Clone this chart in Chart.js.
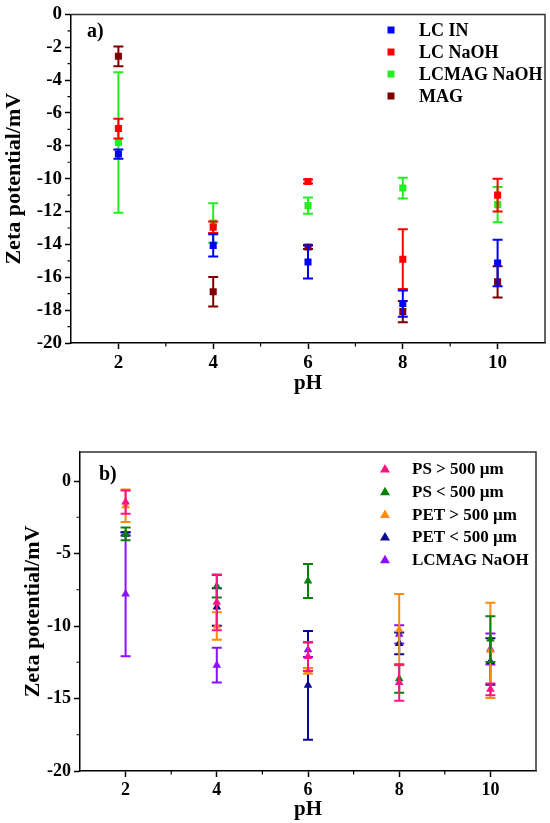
<!DOCTYPE html>
<html>
<head>
    <title>Zeta potential vs pH</title>
    <script src="https://cdn.jsdelivr.net/npm/chart.js@4.4.0/dist/chart.umd.min.js"></script>
    <style>
        body { margin: 0; background: #fff; }
        .panel { position: absolute; left: 0; width: 550px; }
        #panelA { top: 0; height: 400px; }
        #panelB { top: 400px; height: 423px; }
    </style>
</head>
<body>
    <div class="panel" id="panelA"><canvas id="chartA"></canvas></div>
    <div class="panel" id="panelB"><canvas id="chartB"></canvas></div>

    <script>
        // pH values shared by both panels
        const phValues = [2, 4, 6, 8, 10];
        const phTicks = [2, 4, 6, 8, 10];

        // panel a) zeta potential (mV) and error
        const lcIn = [-8.5, -14.06, -15.07, -17.6, -15.13];
        const lcInErr = [0.28, 0.68, 1.0, 0.8, 1.42];
        const lcNaoh = [-6.95, -12.95, -10.17, -14.9, -11.0];
        const lcNaohErr = [0.6, 0.35, 0.12, 1.82, 1.0];
        const lcmagNaoh = [-7.8, -12.7, -11.64, -10.57, -11.58];
        const lcmagNaohErr = [4.28, 1.2, 0.5, 0.63, 1.07];
        const mag = [-2.55, -16.88, -14.16, -18.09, -16.28];
        const magErr = [0.6, 0.9, 0.12, 0.65, 0.95];
        const ticksA = [0, -2, -4, -6, -8, -10, -12, -14, -16, -18, -20];

        // panel b) zeta potential (mV) and error
        const psBig = [-1.45, -8.37, -12.1, -13.9, -14.37];
        const psBigErr = [0.8, 1.93, 1.0, 1.25, 0.4];
        const psSmall = [-3.65, -7.26, -6.9, -13.63, -10.9];
        const psSmallErr = [0.44, 0.78, 1.17, 0.97, 1.58];
        const petBig = [-1.71, -10.0, -13.1, -10.25, -11.68];
        const petBigErr = [1.12, 0.95, 0.2, 2.45, 3.29];
        const petSmall = [-3.65, -8.69, -14.09, -11.2, -12.45];
        const petSmallErr = [0.1, 1.3, 3.75, 0.75, 1.6];
        const lcmagB = [-7.8, -12.7, -11.64, -10.57, -11.58];
        const lcmagBErr = [4.28, 1.2, 0.5, 0.63, 1.07];
        const ticksB = [0, -5, -10, -15, -20];

        const FONT = '"Liberation Serif", "DejaVu Serif", serif';

        function points(values) {
            return values.map((v, i) => ({ x: phValues[i], y: v }));
        }

        function series(label, values, errors, color, style, radius) {
            return {
                label: label,
                data: points(values),
                errors: errors,
                borderColor: color,
                backgroundColor: color,
                pointStyle: style,
                pointRadius: radius,
                pointBorderWidth: 0,
                showLine: false
            };
        }

        // vertical error bars with caps, drawn under each dataset's markers
        const errorBars = {
            id: 'errorBars',
            beforeDatasetDraw(chart, args) {
                const ds = chart.data.datasets[args.index];
                if (!ds.errors) return;
                const { ctx, scales: { x, y } } = chart;
                ctx.save();
                ctx.strokeStyle = ds.borderColor;
                ctx.lineWidth = 2;
                ds.data.forEach((p, j) => {
                    const px = x.getPixelForValue(p.x);
                    const top = y.getPixelForValue(p.y + ds.errors[j]);
                    const bot = y.getPixelForValue(p.y - ds.errors[j]);
                    ctx.beginPath();
                    ctx.moveTo(px, top); ctx.lineTo(px, bot);
                    ctx.moveTo(px - 5, top); ctx.lineTo(px + 5, top);
                    ctx.moveTo(px - 5, bot); ctx.lineTo(px + 5, bot);
                    ctx.stroke();
                });
                ctx.restore();
            }
        };

        // frame, minor ticks, panel letter and legend
        const decorations = {
            id: 'decorations',
            afterDraw(chart, args, opts) {
                const { ctx, chartArea: a, scales: { x, y } } = chart;
                ctx.save();
                ctx.strokeStyle = '#333';
                ctx.lineWidth = 1.5;
                ctx.beginPath();
                ctx.moveTo(a.left, a.top); ctx.lineTo(a.right, a.top); ctx.lineTo(a.right, a.bottom);
                ctx.stroke();

                ctx.strokeStyle = '#000';
                ctx.lineWidth = 1.2;
                ctx.beginPath();
                opts.minorY.forEach(v => {
                    const py = y.getPixelForValue(v);
                    ctx.moveTo(a.left - 3.5, py); ctx.lineTo(a.left, py);
                });
                opts.minorX.forEach(v => {
                    const px = x.getPixelForValue(v);
                    ctx.moveTo(px, a.bottom); ctx.lineTo(px, a.bottom + 3.5);
                });
                ctx.stroke();

                ctx.fillStyle = '#000';
                ctx.font = 'bold 20px ' + FONT;
                ctx.textBaseline = 'middle';
                ctx.textAlign = 'left';
                ctx.fillText(opts.letter, opts.letterX, opts.letterY);

                ctx.font = 'bold ' + opts.legendSize + 'px ' + FONT;
                chart.data.datasets.forEach((ds, i) => {
                    const ly = opts.legendY + i * opts.legendDy;
                    ctx.fillStyle = ds.backgroundColor;
                    ctx.beginPath();
                    if (ds.pointStyle === 'triangle') {
                        ctx.moveTo(opts.markX, ly - 5);
                        ctx.lineTo(opts.markX + 5, ly + 3.5);
                        ctx.lineTo(opts.markX - 5, ly + 3.5);
                        ctx.closePath();
                    } else {
                        ctx.rect(opts.markX - 3.5, ly - 3.5, 7, 7);
                    }
                    ctx.fill();
                    ctx.fillStyle = '#000';
                    ctx.fillText(ds.label, opts.textX, ly + 1);
                });
                ctx.restore();
            }
        };

        function xAxis(pad) {
            return {
                type: 'linear',
                min: 1,
                max: 11,
                afterBuildTicks: s => { s.ticks = phTicks.map(v => ({ value: v })); },
                afterFit: s => { s.height = pad.height; },
                ticks: { color: '#000', padding: 3, font: { family: FONT, size: pad.tickSize, weight: 'bold' } },
                grid: { drawOnChartArea: false, tickLength: 6, tickColor: '#000', tickWidth: 1.5 },
                border: { color: '#000', width: 1.5 },
                title: {
                    display: true, text: 'pH', color: '#000',
                    padding: { top: 0, bottom: pad.titleBottom },
                    font: { family: FONT, size: 21, weight: 'bold' }
                }
            };
        }

        function yAxis(min, max, tickValues, pad) {
            return {
                type: 'linear',
                min: min,
                max: max,
                afterBuildTicks: s => { s.ticks = tickValues.map(v => ({ value: v })); },
                afterFit: s => { s.width = pad.width; },
                ticks: { color: '#000', padding: 3, font: { family: FONT, size: pad.tickSize, weight: 'bold' } },
                grid: { drawOnChartArea: false, tickLength: 6, tickColor: '#000', tickWidth: 1.5 },
                border: { color: '#000', width: 1.5 },
                title: {
                    display: true, text: 'Zeta potential/mV', color: '#000',
                    padding: { top: pad.titleTop, bottom: 0 },
                    font: { family: FONT, size: 22, weight: 'bold' }
                }
            };
        }

        new Chart(document.getElementById('chartA'), {
            type: 'scatter',
            data: {
                datasets: [
                    series('LC IN', lcIn, lcInErr, '#0000ff', 'rect', 5),
                    series('LC NaOH', lcNaoh, lcNaohErr, '#ff0000', 'rect', 5),
                    series('LCMAG NaOH', lcmagNaoh, lcmagNaohErr, '#22ee22', 'rect', 5),
                    series('MAG', mag, magErr, '#800000', 'rect', 5)
                ]
            },
            options: {
                responsive: true,
                maintainAspectRatio: false,
                animation: false,
                layout: { padding: { top: 12, right: 5, left: 0, bottom: 0 } },
                plugins: {
                    legend: { display: false },
                    tooltip: { enabled: false },
                    decorations: {
                        minorY: [-1, -3, -5, -7, -9, -11, -13, -15, -17, -19],
                        minorX: [3, 5, 7, 9],
                        letter: 'a)', letterX: 87, letterY: 32,
                        markX: 391, textX: 419, legendY: 30, legendDy: 22, legendSize: 18
                    }
                },
                scales: {
                    x: xAxis({ height: 57, titleBottom: 4, tickSize: 19 }),
                    y: yAxis(-20, 0, ticksA, { width: 71, titleTop: 1, tickSize: 19 })
                }
            },
            plugins: [errorBars, decorations]
        });

        new Chart(document.getElementById('chartB'), {
            type: 'scatter',
            data: {
                datasets: [
                    series('PS > 500 \u00b5m', psBig, psBigErr, '#ff1488', 'triangle', 5),
                    series('PS < 500 \u00b5m', psSmall, psSmallErr, '#0a800a', 'triangle', 5),
                    series('PET > 500 \u00b5m', petBig, petBigErr, '#ff8c10', 'triangle', 5),
                    series('PET < 500 \u00b5m', petSmall, petSmallErr, '#0a0a90', 'triangle', 5),
                    series('LCMAG NaOH', lcmagB, lcmagBErr, '#8a10ff', 'triangle', 5)
                ]
            },
            options: {
                responsive: true,
                maintainAspectRatio: false,
                animation: false,
                layout: { padding: { top: 52, right: 14, left: 0, bottom: 0 } },
                plugins: {
                    legend: { display: false },
                    tooltip: { enabled: false },
                    decorations: {
                        minorY: [-2.5, -7.5, -12.5, -17.5],
                        minorX: [3, 5, 7, 9],
                        letter: 'b)', letterX: 99, letterY: 75,
                        markX: 385, textX: 412, legendY: 69, legendDy: 22.7, legendSize: 17
                    }
                },
                scales: {
                    x: xAxis({ height: 52, titleBottom: 1, tickSize: 18 }),
                    y: yAxis(-20, 2, ticksB, { width: 80, titleTop: 20, tickSize: 18 })
                }
            },
            plugins: [errorBars, decorations]
        });
    </script>
</body>
</html>
